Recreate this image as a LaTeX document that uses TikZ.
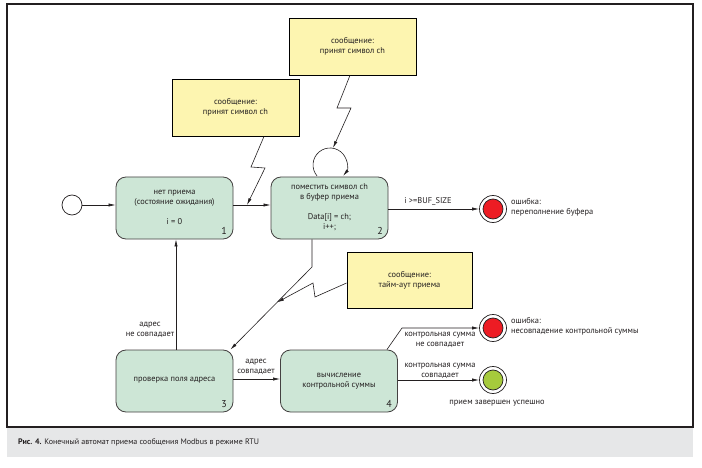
\documentclass[tikz,border=0pt]{standalone}
\usepackage{fontspec}
\setmainfont{PT Sans}
\usetikzlibrary{arrows.meta}
\definecolor{boxg}{HTML}{CDE6D6}
\definecolor{noteY}{HTML}{FDF5B0}
\definecolor{redc}{HTML}{ED1C24}
\definecolor{greenc}{HTML}{A6CA3C}
\definecolor{capg}{HTML}{E6E7E8}
\definecolor{txt}{HTML}{231F20}
\begin{document}
\begin{tikzpicture}[x=1pt,y=-1pt,
 font=\fontsize{8.4}{10}\selectfont, text=txt,
 state/.style={draw=txt!85, line width=0.8pt, fill=boxg, rounded corners=10pt, minimum width=117pt, minimum height=62pt, inner sep=0},
 note/.style={draw=black, line width=0.8pt, fill=noteY, inner sep=0, align=center},
 arr/.style={-{Latex[length=7pt,width=3.2pt]}, line width=0.6pt, draw=txt},
 lbl/.style={inner sep=0, align=center},
 num/.style={inner sep=0, font=\fontsize{10}{11}\selectfont},
 pt/.style={circle, draw=txt, line width=0.7pt, inner sep=0}
]
\fill[white] (0,0) rectangle (702,468);
\useasboundingbox (0,0) rectangle (702,468);
\fill[capg] (7,427) rectangle (693,457);
\draw[line width=1.2pt, txt] (7,4) rectangle (693,427);
\node[inner sep=0, anchor=west, font=\fontsize{8}{9}\selectfont] (cap) at (18,442) {\textbf{Рис. 4.} Конечный автомат приема сообщения Modbus в режиме RTU};

% notes
\node[note, minimum width=127pt, minimum height=57pt] (n1) at (235.5,107.5) {сообщение:\\принят символ ch};
\node[note, minimum width=127pt, minimum height=57pt] (n2) at (352.5,46.5) {сообщение:\\принят символ ch};
\node[note, minimum width=125pt, minimum height=56pt] (n3) at (409.5,280) {сообщение:\\тайм-аут приема};

% states
\node[state] (box1) at (174.5,208) {};
\node[lbl] (t1a) at (174.5,198) {нет приема\\(состояние ожидания)};
\node[lbl] (t1b) at (174.5,222) {i = 0};
\node[num] (num1) at (224,231) {1};
\node[state] (box2) at (329.5,208) {};
\node[lbl] (t2a) at (329.5,192.5) {поместить символ ch\\в буфер приема};
\node[lbl] (t2b) at (329.5,222) {Data[i] = ch;\\i++;};
\node[num] (num2) at (380,231) {2};
\node[state] (box3) at (174.5,381) {};
\node[lbl] (t3) at (174.5,380) {проверка поля адреса};
\node[num] (num3) at (224,404) {3};
\node[state] (box4) at (339,381) {};
\node[lbl] (t4) at (339,381) {вычисление\\контрольной суммы};
\node[num] (num4) at (389,404) {4};

% pseudo states
\node[pt, fill=white, minimum size=20pt] (init) at (72,205) {};
\node[pt, fill=white, minimum size=27pt] (fin1) at (493,209) {};
\node[pt, fill=redc, minimum size=20pt] (fin1in) at (fin1) {};
\node[pt, fill=white, minimum size=27pt] (fin2) at (493,328) {};
\node[pt, fill=redc, minimum size=20pt] (fin2in) at (fin2) {};
\node[pt, fill=white, minimum size=27pt] (ok) at (493,380) {};
\node[pt, fill=greenc, minimum size=20pt] (okin) at (ok) {};

% labels
\node[lbl] (lBuf) at (428,201) {i >=BUF\_SIZE};
\node[lbl, anchor=west, align=left] (lErr1) at (511,207) {ошибка:\\переполнение буфера};
\node[lbl] (lAdrNo) at (150,330) {адрес\\не совпадает};
\node[lbl] (lAdrYes) at (256,367) {адрес\\совпадает};
\node[lbl] (lCsNo) at (440,339.5) {контрольная сумма\\не совпадает};
\node[lbl] (lCsYes) at (440,370.5) {контрольная сумма\\совпадает};
\node[lbl, anchor=west, align=left] (lErr2) at (511,326) {ошибка:\\несовпадение контрольной суммы};
\node[lbl] (lOk) at (497,403) {прием завершен успешно};

% connectors
\draw[arr] (init) -- (box1.west |- init);
\draw[arr] (box1.east |- init) -- (box2.west |- init);
\draw[arr] (box2.east |- fin1) -- (fin1);
\coordinate (loopS) at (317,175.9);
\draw[arr] (loopS) arc[start angle=140, end angle=400, radius=17];
\coordinate (j1) at (247,205);
\draw[arr] ([xshift=28.5pt]n1.south) -- (251,167) -- (265,168) -- (j1);
\coordinate (j2) at (333,148);
\draw[arr] ([xshift=-2.5pt]n2.south) -- (337,108) -- (351,108) -- (j2);
\coordinate (k1) at (312,267);
\coordinate (k3) at ([xshift=-3pt]box3.north east);
\draw[arr] (box2.south -| k1) -- (k1) -- (k3);
\coordinate (j3) at (277,302.4);
\draw[arr] ([yshift=-3pt]n3.west) -- (315,297) -- (313,283) -- (j3);
\draw[arr] ([xshift=1.5pt]box3.north) -- ([xshift=1.5pt]box1.south);
\draw[arr] ([yshift=2pt]box3.east) -- ([yshift=2pt]box4.west);
\coordinate (m1) at (402,328);
\draw[arr] ([xshift=-11pt]box4.north east) -- (m1) -- (fin2);
\draw[arr] (box4.east |- ok) -- (ok);
\end{tikzpicture}
\end{document}
